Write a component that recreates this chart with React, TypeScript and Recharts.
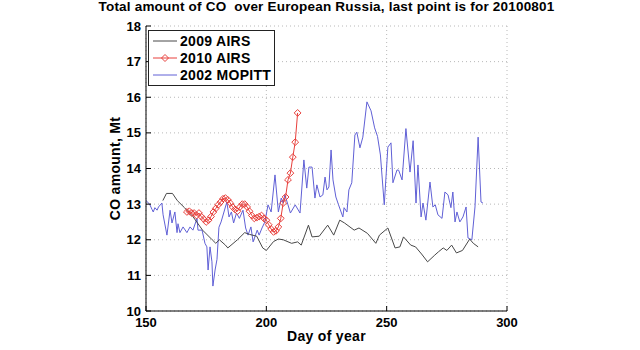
import React from 'react';
import { LineChart, Line, XAxis, YAxis, CartesianGrid, Legend } from 'recharts';

const titleText = 'Total amount of CO  over European Russia, last point is for 20100801';
const xLabel = 'Day of year';
const yLabel = 'CO amount, Mt';
const xTicks = [150, 200, 250, 300];
const yTicks = [10, 11, 12, 13, 14, 15, 16, 17, 18];

// [day of year, CO amount (Mt)]
const airs2009: [number, number][] = [
  [157, 13.1], [158.5, 13.3], [161, 13.3], [163, 13.1], [166, 12.9], [169.5, 12.65],
  [173.5, 12.27], [177.5, 12.0], [179, 11.9], [180.5, 12.0], [183, 11.85], [184, 11.77],
  [188, 12.0], [191, 12.2], [193, 12.15], [196, 12.1], [198.5, 11.77], [200, 11.7],
  [203, 11.95], [205, 12.02], [207, 12.0], [210.5, 11.9], [213, 11.94], [214.5, 11.85],
  [217.5, 12.41], [219, 12.08], [222, 12.1], [225.5, 12.41], [228, 12.13], [230.5, 12.55],
  [232.5, 12.47], [236.5, 12.27], [238.5, 12.33], [242, 12.18], [245.5, 11.9], [247, 12.13],
  [250.5, 12.33], [253.5, 11.77], [255.5, 11.8], [257, 12.08], [260, 11.85], [262, 11.8],
  [264.5, 11.6], [267, 11.38], [270, 11.57], [271.5, 11.66], [273.5, 11.77], [275, 11.7],
  [277, 11.85], [279, 11.63], [281.5, 11.7], [284.5, 12.02], [286, 11.9], [288, 11.8],
];

const airs2010: [number, number][] = [
  [167, 12.78], [168, 12.8], [169, 12.75], [170, 12.75], [171, 12.68], [172, 12.75],
  [173, 12.65], [174, 12.58], [175, 12.5], [176, 12.55], [177, 12.65], [178, 12.78],
  [179, 12.88], [180, 12.98], [181, 13.06], [182, 13.15], [183, 13.17], [184, 13.12],
  [185, 13.03], [186, 12.92], [187, 12.85], [188, 12.8], [189, 12.92], [190, 13.0],
  [191, 13.0], [192, 12.92], [193, 12.8], [194, 12.68], [195, 12.6], [196, 12.62],
  [197, 12.65], [198, 12.68], [199, 12.6], [200, 12.55], [201, 12.42], [202, 12.3],
  [203, 12.22], [204, 12.25], [205, 12.36], [206, 12.6], [207, 13.03], [208, 13.2],
  [209, 13.68], [210, 13.87], [211, 14.32], [212, 14.74], [213, 15.56],
];

const mopitt2002: [number, number][] = [
  [150, 13.1], [151.5, 13.0], [152.5, 12.85], [153, 12.78], [153.7, 12.9], [154.6, 12.83],
  [155.2, 12.92], [156.6, 13.03], [157.1, 12.7], [158.7, 12.13], [160, 12.83], [160.8, 12.47],
  [162, 12.78], [162.9, 12.2], [163.3, 12.45], [164.1, 12.2], [165.4, 12.36], [167, 12.2],
  [168.3, 12.36], [169.5, 12.27], [171.2, 12.6], [171.6, 12.27], [173.3, 12.27], [174.5, 11.9],
  [175.3, 11.8], [175.8, 11.15], [176.6, 11.8], [177.4, 11.38], [177.8, 10.7], [178.7, 11.15],
  [179.5, 11.45], [180.3, 12.35], [181.2, 12.5], [183.6, 13.06], [184.5, 12.64], [185.5, 12.78],
  [186.4, 12.47], [187.6, 12.75], [188.8, 12.6], [190.3, 12.83], [191.4, 12.33], [192.4, 12.13],
  [193.6, 12.36], [194.5, 11.94], [196.2, 12.27], [197, 12.13], [198.2, 12.33], [199.4, 12.5],
  [200.7, 12.98], [202, 12.78], [203.6, 13.82], [205, 12.78], [206.2, 13.17], [207, 13.03],
  [207.7, 13.26], [209, 12.98], [210, 12.75], [212, 12.98], [214, 12.75], [215.6, 14.24],
  [216.8, 13.45], [217.7, 14.04], [219, 14.04], [220.2, 13.17], [221, 13.54], [222.3, 13.2],
  [223.5, 13.26], [224.4, 13.76], [225.2, 13.4], [226, 13.48], [226.9, 14.52], [227.7, 13.68],
  [228.9, 13.2], [230, 12.98], [231.8, 12.64], [232.3, 12.9], [233.5, 12.78], [234.3, 13.4],
  [235.5, 13.6], [236.8, 14.94], [237.6, 15.02], [238.9, 14.58], [240.1, 14.88], [241.8, 15.87],
  [243.5, 15.62], [245, 15.14], [246.2, 14.9], [247.4, 14.38], [249, 12.98], [250.5, 14.6],
  [251.8, 14.72], [252.6, 13.6], [254.3, 13.96], [255, 13.95], [256.4, 13.68], [258, 15.12],
  [259.7, 13.9], [261, 14.78], [262.2, 13.03], [263, 14.1], [264.3, 12.64], [265.1, 13.03],
  [266.3, 12.55], [268, 13.62], [269.2, 12.92], [270.2, 12.98], [271.3, 12.7], [273, 12.6],
  [274.2, 13.34], [275.5, 13.26], [276.7, 12.9], [277.5, 13.34], [278.4, 12.5], [279.2, 12.78],
  [280.4, 12.5], [281.7, 12.64], [283, 12.92], [283.8, 12.05], [285.4, 12.0], [286.7, 12.92],
  [288, 14.88], [289.2, 13.06], [290, 13.03],
];

const seriesNames = ['2009 AIRS', '2010 AIRS', '2002 MOPITT'];
const seriesColors = ['#484848', '#e8403c', '#6060d6'];

const toRows = (pts: [number, number][]) => pts.map(([day, v]) => ({ day, v }));

const FONT = '"Liberation Sans", Arial, Helvetica, sans-serif';

const Diamond = (props: any) => {
  const { cx, cy, index } = props;
  if (cx == null || cy == null) return <g key={`d${index}`} />;
  const r = 3.4;
  return (
    <path
      key={`d${index}`}
      d={`M${cx},${cy - r}L${cx + r},${cy}L${cx},${cy + r}L${cx - r},${cy}Z`}
      fill="none"
      stroke={seriesColors[1]}
      strokeWidth={1}
    />
  );
};

const LegendBox = () => (
  <div
    style={{
      border: '1px solid #222',
      background: '#fff',
      width: 127,
      boxSizing: 'border-box',
      padding: '2px 0 2px 4px',
      fontFamily: FONT,
      fontWeight: 'bold',
      fontSize: 14,
      letterSpacing: 0.3,
      color: '#000',
    }}
  >
    {seriesNames.map((name, i) => (
      <div key={name} style={{ display: 'flex', alignItems: 'center', height: 16.8 }}>
        <svg width={24} height={10} style={{ marginRight: 3 }}>
          <line x1={0} y1={5} x2={24} y2={5} stroke={seriesColors[i]} strokeWidth={1} />
          {i === 1 && <path d="M12,1.5L15.5,5L12,8.5L8.5,5Z" fill="none" stroke={seriesColors[1]} />}
        </svg>
        <span style={{ lineHeight: '14px' }}>{name}</span>
      </div>
    ))}
  </div>
);

const tickStyle = { fill: '#000', fontSize: 13, fontWeight: 'bold', fontFamily: FONT };

export default function App() {
  return (
    <div style={{ position: 'absolute', left: 0, top: 0, width: 640, height: 350, background: '#fff' }}>
      <div
        style={{
          position: 'absolute',
          left: 0,
          top: 0,
          width: 653,
          textAlign: 'center',
          fontFamily: FONT,
          fontWeight: 'bold',
          fontSize: 13.5,
          letterSpacing: 0.2,
          lineHeight: '13px',
          whiteSpace: 'pre',
          color: '#000',
          zIndex: 2,
        }}
      >
        {titleText}
      </div>
      <LineChart width={640} height={350} margin={{ top: 26, right: 133, left: 84, bottom: 0 }}>
        <CartesianGrid stroke="#b8b8b8" strokeDasharray="1 3" />
        <XAxis
          xAxisId="top"
          orientation="top"
          type="number"
          domain={[150, 300]}
          ticks={xTicks}
          height={0}
          tickSize={-5}
          tickFormatter={() => ''}
          stroke="#000"
          allowDataOverflow
        />
        <YAxis
          yAxisId="right"
          orientation="right"
          type="number"
          domain={[10, 18]}
          ticks={yTicks}
          width={0}
          tickSize={-5}
          tickFormatter={() => ''}
          stroke="#000"
          allowDataOverflow
        />
        <XAxis
          dataKey="day"
          type="number"
          domain={[150, 300]}
          ticks={xTicks}
          height={39}
          tickSize={-5}
          tickMargin={12}
          tick={tickStyle}
          stroke="#000"
          allowDataOverflow
          label={{
            value: xLabel,
            position: 'insideBottom',
            offset: 9,
            style: { fill: '#000', fontSize: 14, fontWeight: 'bold', fontFamily: FONT, letterSpacing: 0.3 },
          }}
        />
        <YAxis
          type="number"
          domain={[10, 18]}
          ticks={yTicks}
          width={62}
          tickSize={-5}
          tickMargin={10}
          tick={tickStyle}
          stroke="#000"
          allowDataOverflow
          label={{
            value: yLabel,
            angle: -90,
            position: 'center',
            style: { fill: '#000', fontSize: 14, fontWeight: 'bold', fontFamily: FONT, letterSpacing: 0.3 },
          }}
        />
        <Legend
          layout="vertical"
          align="center"
          verticalAlign="middle"
          content={() => <LegendBox />}
          wrapperStyle={{ left: 148, top: 30, width: 127, height: 55 }}
        />
        <Line
          data={toRows(mopitt2002)}
          dataKey="v"
          name={seriesNames[2]}
          stroke={seriesColors[2]}
          strokeWidth={1}
          dot={false}
          isAnimationActive={false}
        />
        <Line
          data={toRows(airs2009)}
          dataKey="v"
          name={seriesNames[0]}
          stroke={seriesColors[0]}
          strokeWidth={1}
          dot={false}
          isAnimationActive={false}
        />
        <Line
          data={toRows(airs2010)}
          dataKey="v"
          name={seriesNames[1]}
          stroke={seriesColors[1]}
          strokeWidth={1}
          dot={<Diamond />}
          isAnimationActive={false}
        />
      </LineChart>
    </div>
  );
}
